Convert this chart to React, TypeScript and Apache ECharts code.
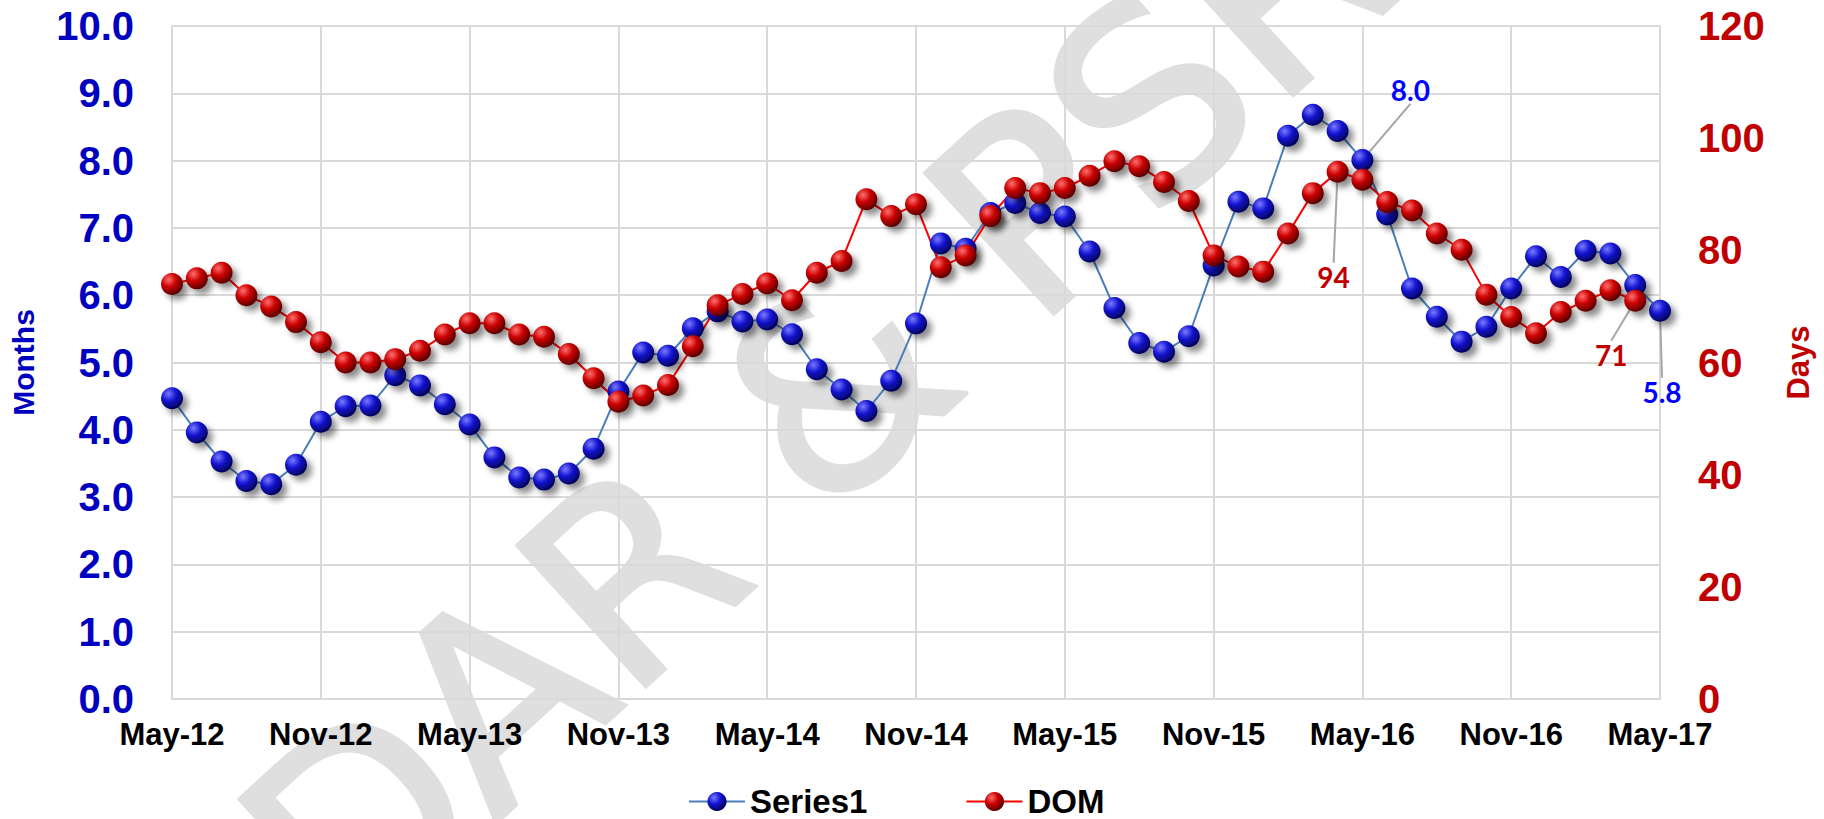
import React, { useEffect, useRef } from "react";
import * as echarts from "echarts";

const categories: string[] = [
  "May-12","Jun-12","Jul-12","Aug-12","Sep-12","Oct-12","Nov-12","Dec-12","Jan-13","Feb-13","Mar-13","Apr-13",
  "May-13","Jun-13","Jul-13","Aug-13","Sep-13","Oct-13","Nov-13","Dec-13","Jan-14","Feb-14","Mar-14","Apr-14",
  "May-14","Jun-14","Jul-14","Aug-14","Sep-14","Oct-14","Nov-14","Dec-14","Jan-15","Feb-15","Mar-15","Apr-15",
  "May-15","Jun-15","Jul-15","Aug-15","Sep-15","Oct-15","Nov-15","Dec-15","Jan-16","Feb-16","Mar-16","Apr-16",
  "May-16","Jun-16","Jul-16","Aug-16","Sep-16","Oct-16","Nov-16","Dec-16","Jan-17","Feb-17","Mar-17","Apr-17",
  "May-17",
];

// Months of supply (left axis)
const series1: number[] = [
  4.47, 3.96, 3.53, 3.24, 3.19, 3.48, 4.12, 4.35, 4.36, 4.81, 4.66, 4.38,
  4.08, 3.59, 3.29, 3.26, 3.35, 3.72, 4.57, 5.15, 5.10, 5.51, 5.76, 5.61,
  5.64, 5.42, 4.90, 4.60, 4.28, 4.73, 5.58, 6.77, 6.69, 7.22, 7.37, 7.22,
  7.17, 6.65, 5.81, 5.29, 5.16, 5.39, 6.44, 7.39, 7.29, 8.37, 8.68, 8.44,
  8.01, 7.20, 6.10, 5.68, 5.31, 5.53, 6.10, 6.58, 6.27, 6.66, 6.62, 6.15,
  5.77,
];

// Days on market (right axis)
const dom: (number | null)[] = [
  74, 75, 76, 72, 70, 67.2, 63.6, 60, 60, 60.6, 62.1, 65,
  67, 67, 65, 64.6, 61.5, 57.2, 53, 54.1, 56, 62.9, 70.2, 72.2,
  74.1, 71.1, 76, 78.1, 89.1, 86.1, 88.2, 77, 79.1, 86.1, 91.1, 90.2,
  91.1, 93.3, 95.9, 95, 92.2, 88.8, 79.1, 77.1, 76.2, 83, 90.2, 94,
  92.6, 88.6, 87.1, 83, 80.1, 72.1, 68.1, 65.2, 69, 71, 72.9, 71,
  null,
];

const leftTicks = { min: 0, max: 10, interval: 1 };
const rightTicks = { min: 0, max: 120, interval: 20 };

// labelled points: index -> [dx, dy] label offsets
const series1Labels: Record<number, [number, number]> = { 48: [48, -70], 60: [2, 81] };
const domLabels: Record<number, [number, number]> = { 47: [-4, 105], 59: [-24, 54] };

const watermark = "DAR & PSRA";

const FONT = "'Liberation Sans', Arial, sans-serif";

function ball(light: string, mid: string, dark: string) {
  return new echarts.graphic.RadialGradient(0.35, 0.3, 0.75, [
    { offset: 0, color: light },
    { offset: 0.45, color: mid },
    { offset: 1, color: dark },
  ]);
}

export default function App() {
  const ref = useRef<HTMLDivElement>(null);
  useEffect(() => {
    if (!ref.current) return;
    const chart = echarts.init(ref.current, undefined, { renderer: "svg" });
    const shadow = {
      shadowBlur: 6,
      shadowOffsetX: 5,
      shadowOffsetY: 5,
      shadowColor: "rgba(0,0,0,0.45)",
    };
    const blueStyle = { color: ball("#7a7aff", "#1414d2", "#00004d"), ...shadow };
    const redStyle = { color: ball("#ff7070", "#cc0000", "#4d0000"), ...shadow };
    const mk = (arr: (number | null)[], labels: Record<number, [number, number]>, color: string, digits: number) =>
      arr.map((v, i) =>
        labels[i]
          ? {
              value: v,
              label: {
                show: true,
                position: "inside",
                formatter: (v as number).toFixed(digits),
                color,
                fontSize: 28,
                fontWeight: "bold",
                fontFamily: "Lato, 'Open Sans', sans-serif",
              },
            }
          : v
      );
    chart.setOption({
      animation: false,
      backgroundColor: "#ffffff",
      graphic: [
        {
          type: "text",
          z: -10,
          x: 880,
          y: 350,
          rotation: 0.74,
          style: {
            text: watermark,
            fontSize: 262,
            fontFamily: "'DejaVu Sans', sans-serif",
            fontWeight: "normal",
            fill: "#DFDFDF",
            stroke: "#DFDFDF",
            lineWidth: 4,
            lineJoin: "round",
            align: "center",
            verticalAlign: "middle",
          },
        },
      ],
      grid: { left: 172, right: 164, top: 26, bottom: 120, containLabel: false },
      legend: {
        left: 683,
        top: 780,
        itemWidth: 56,
        itemHeight: 24,
        itemGap: 98,
        textStyle: { fontSize: 33, fontWeight: "bold", color: "#000", fontFamily: FONT },
        data: ["Series1", "DOM"],
      },
      xAxis: {
        type: "category",
        boundaryGap: false,
        data: categories,
        axisTick: { show: false },
        axisLine: { lineStyle: { color: "#D9D9D9", width: 2 } },
        axisLabel: {
          interval: 5,
          margin: 20,
          color: "#000",
          fontSize: 31,
          fontWeight: "bold",
          fontFamily: FONT,
        },
        splitLine: { show: true, interval: 5, lineStyle: { color: "#D9D9D9", width: 2 } },
      },
      yAxis: [
        {
          type: "value",
          ...leftTicks,
          position: "left",
          name: "Months",
          nameLocation: "middle",
          nameRotate: 90,
          nameGap: 134,
          nameTextStyle: { color: "#0000C0", fontSize: 30, fontWeight: "bold", fontFamily: FONT },
          axisLine: { show: true, lineStyle: { color: "#D9D9D9", width: 2 } },
          axisTick: { show: false },
          axisLabel: {
            formatter: (v: number) => v.toFixed(1),
            color: "#0000C0",
            fontSize: 40,
            fontWeight: "bold",
            fontFamily: FONT,
            margin: 38,
          },
          splitLine: { show: true, lineStyle: { color: "#D9D9D9", width: 2 } },
        },
        {
          type: "value",
          ...rightTicks,
          position: "right",
          name: "Days",
          nameLocation: "middle",
          nameRotate: 90,
          nameGap: 123,
          nameTextStyle: { color: "#C00000", fontSize: 31, fontWeight: "bold", fontFamily: FONT },
          axisLine: { show: true, lineStyle: { color: "#D9D9D9", width: 2 } },
          axisTick: { show: false },
          axisLabel: {
            color: "#C00000",
            fontSize: 40,
            fontWeight: "bold",
            fontFamily: FONT,
            margin: 38,
          },
          splitLine: { show: false },
        },
      ],
      series: [
        {
          name: "Series1",
          type: "line",
          yAxisIndex: 0,
          data: mk(series1, series1Labels, "#0000FF", 1),
          symbol: "circle",
          symbolSize: 22,
          showAllSymbol: true,
          lineStyle: { color: "#4A7EBB", width: 2 },
          itemStyle: blueStyle,
          labelLine: { show: true, lineStyle: { color: "#A6A6A6", width: 2 } },
          labelLayout: (p: any) => {
            const o = series1Labels[p.dataIndex];
            return o ? { dx: o[0], dy: o[1] } : {};
          },
        },
        {
          name: "DOM",
          type: "line",
          yAxisIndex: 1,
          data: mk(dom, domLabels, "#C00000", 0),
          symbol: "circle",
          symbolSize: 22,
          showAllSymbol: true,
          lineStyle: { color: "#FF0000", width: 2 },
          itemStyle: redStyle,
          labelLine: { show: true, lineStyle: { color: "#A6A6A6", width: 2 } },
          labelLayout: (p: any) => {
            const o = domLabels[p.dataIndex];
            return o ? { dx: o[0], dy: o[1] } : {};
          },
        },
      ],
    });
    return () => chart.dispose();
  }, []);
  return (
    <div
      ref={ref}
      style={{ position: "fixed", left: 0, top: 0, width: "1824px", height: "819px" }}
    />
  );
}
